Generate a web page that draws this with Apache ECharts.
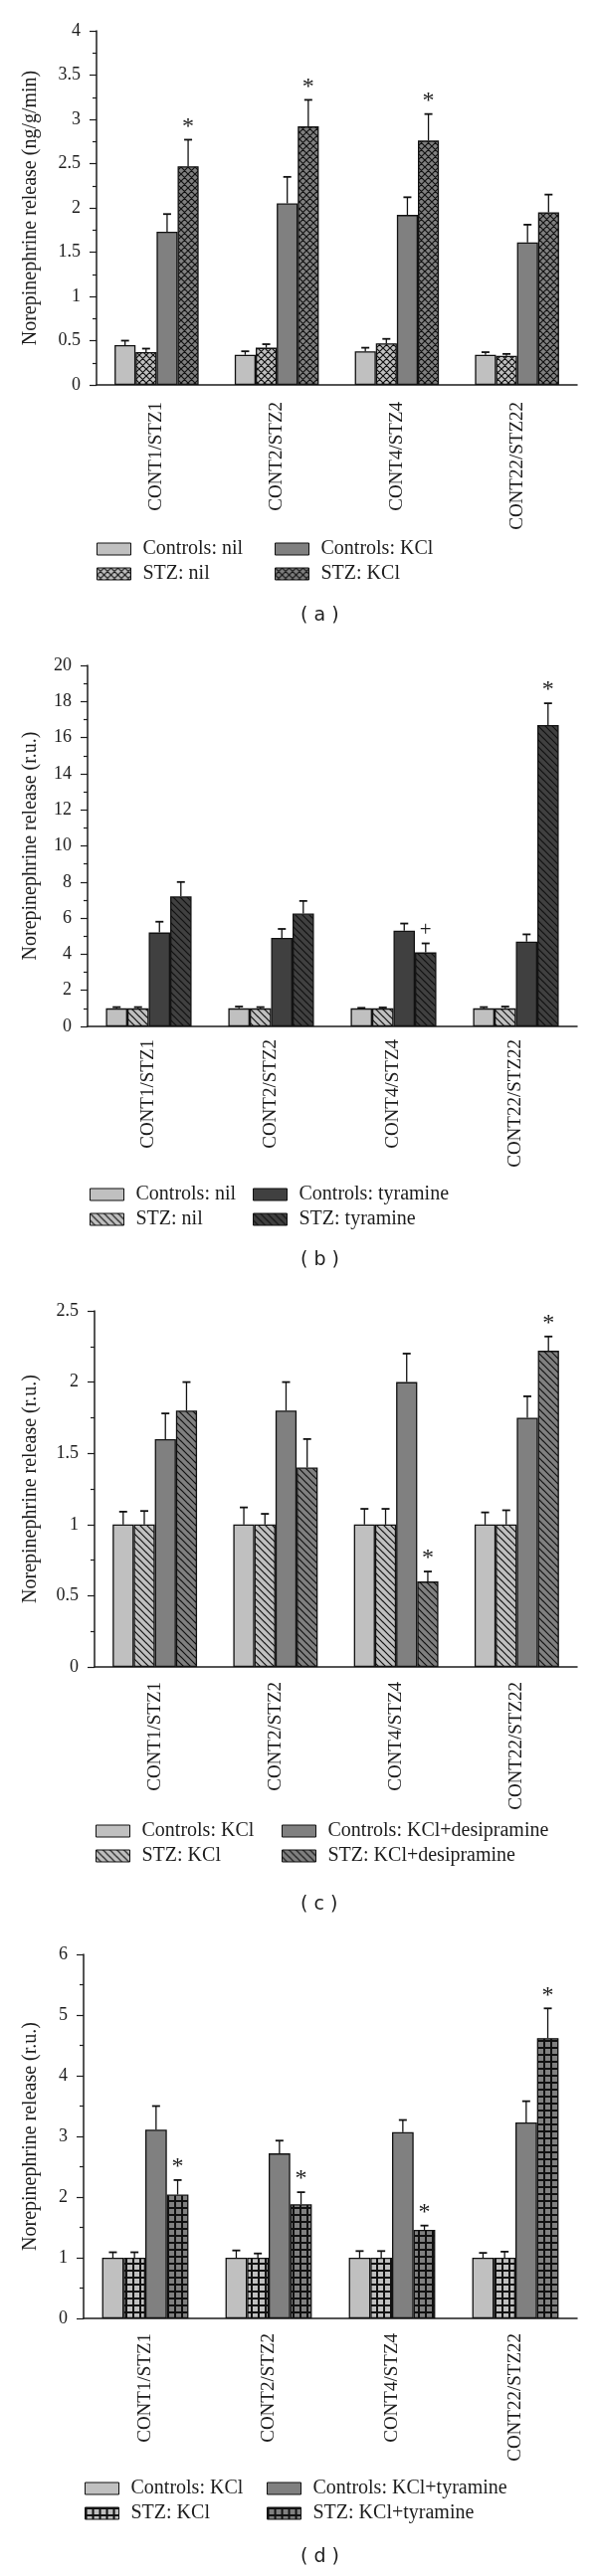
<!DOCTYPE html>
<html><head><meta charset="utf-8">
<script src="https://cdn.jsdelivr.net/npm/echarts@6/dist/echarts.min.js"></script>
<style>html,body{margin:0;padding:0;background:#fff}#chart{width:600px;height:2590px}</style>
</head><body><div id="chart"></div>
<script>
// ---------------- DATA ----------------
const categories = ['CONT1/STZ1', 'CONT2/STZ2', 'CONT4/STZ4', 'CONT22/STZ22'];

// panel (a)
const aNames = ['Controls: nil', 'STZ: nil', 'Controls: KCl', 'STZ: KCl'];
const aControlsNil = [0.45, 0.34, 0.38, 0.34];
const aControlsNilSem = [0.05, 0.04, 0.04, 0.03];
const aStzNil = [0.37, 0.42, 0.47, 0.33];
const aStzNilSem = [0.04, 0.04, 0.05, 0.02];
const aControlsKCl = [1.73, 2.05, 1.92, 1.61];
const aControlsKClSem = [0.20, 0.30, 0.20, 0.20];
const aStzKCl = [2.47, 2.92, 2.76, 1.95];
const aStzKClSem = [0.30, 0.30, 0.30, 0.20];
const aStzKClMarks = ['*', '*', '*', ''];
const aTicks = { min: 0, max: 4, interval: 0.5 };

// panel (b)
const bNames = ['Controls: nil', 'STZ: nil', 'Controls: tyramine', 'STZ: tyramine'];
const bControlsNil = [1, 1, 1, 1];
const bControlsNilSem = [0.07, 0.10, 0.03, 0.07];
const bStzNil = [1, 1, 1, 1];
const bStzNilSem = [0.07, 0.07, 0.05, 0.10];
const bControlsTyr = [5.2, 4.9, 5.3, 4.7];
const bControlsTyrSem = [0.6, 0.5, 0.4, 0.4];
const bStzTyr = [7.2, 6.25, 4.1, 16.7];
const bStzTyrSem = [0.8, 0.7, 0.5, 1.2];
const bStzTyrMarks = ['', '', '+', '*'];
const bTicks = { min: 0, max: 20, interval: 2 };

// panel (c)
const cNames = ['Controls: KCl', 'STZ: KCl', 'Controls: KCl+desipramine', 'STZ: KCl+desipramine'];
const cControlsKCl = [1, 1, 1, 1];
const cControlsKClSem = [0.09, 0.12, 0.11, 0.085];
const cStzKCl = [1, 1, 1, 1];
const cStzKClSem = [0.095, 0.075, 0.11, 0.10];
const cControlsDes = [1.6, 1.8, 2.0, 1.75];
const cControlsDesSem = [0.18, 0.20, 0.20, 0.15];
const cStzDes = [1.8, 1.4, 0.6, 2.22];
const cStzDesSem = [0.20, 0.20, 0.07, 0.10];
const cStzDesMarks = ['', '', '*', '*'];
const cTicks = { min: 0, max: 2.5, interval: 0.5 };

// panel (d)
const dNames = ['Controls: KCl', 'STZ: KCl', 'Controls: KCl+tyramine', 'STZ: KCl+tyramine'];
const dControlsKCl = [1, 1, 1, 1];
const dControlsKClSem = [0.09, 0.12, 0.11, 0.08];
const dStzKCl = [1, 1, 1, 1];
const dStzKClSem = [0.09, 0.07, 0.11, 0.10];
const dControlsTyr = [3.11, 2.72, 3.07, 3.23];
const dControlsTyrSem = [0.39, 0.21, 0.20, 0.35];
const dStzTyr = [2.04, 1.88, 1.46, 4.62];
const dStzTyrSem = [0.24, 0.20, 0.07, 0.49];
const dStzTyrMarks = ['*', '*', '*', '*'];
const dTicks = { min: 0, max: 6, interval: 1 };

// ---------------- STYLE ----------------
const SERIF = '"Liberation Serif", "DejaVu Serif", serif';
const INK = '#1c1c1c';
const LIGHT = '#c0c0c0', MID = '#808080', DARK = '#404040';

function makePattern(kind, bg) {
  const s = 7;
  const cv = document.createElement('canvas');
  cv.width = s; cv.height = s;
  const g = cv.getContext('2d');
  g.fillStyle = bg; g.fillRect(0, 0, s, s);
  g.strokeStyle = '#111'; g.fillStyle = '#111'; g.lineWidth = 1.2;
  if (kind === 'grid') {
    g.fillRect(0, 0, s, 2); g.fillRect(0, 0, 2, s);
  } else {
    g.beginPath();
    for (let dx = -s; dx <= s; dx += s) for (let dy = -s; dy <= s; dy += s) {
      g.moveTo(dx, dy); g.lineTo(dx + s, dy + s);
      if (kind === 'cross') { g.moveTo(dx + s, dy); g.lineTo(dx, dy + s); }
    }
    g.stroke();
  }
  return { image: cv, repeat: 'repeat' };
}

const panels = [
  { key: 'a', label: '( a )', names: aNames, yName: 'Norepinephrine release (ng/g/min)', ticks: aTicks,
    values: [aControlsNil, aStzNil, aControlsKCl, aStzKCl],
    sems: [aControlsNilSem, aStzNilSem, aControlsKClSem, aStzKClSem],
    marks: [[], [], [], aStzKClMarks],
    fills: [LIGHT, makePattern('cross', LIGHT), MID, makePattern('cross', MID)],
    grid: { left: 97, top: 31, width: 483, height: 356 }, nameGap: 56, labelMargin: 17,
    legend: { top: 542, left1: 97, left2: 276 }, title: { left: 302, top: 610 } },
  { key: 'b', label: '( b )', names: bNames, yName: 'Norepinephrine release (r.u.)', ticks: bTicks,
    values: [bControlsNil, bStzNil, bControlsTyr, bStzTyr],
    sems: [bControlsNilSem, bStzNilSem, bControlsTyrSem, bStzTyrSem],
    marks: [[], [], [], bStzTyrMarks],
    fills: [LIGHT, makePattern('diag', LIGHT), DARK, makePattern('diag', DARK)],
    grid: { left: 88, top: 669, width: 492, height: 363 }, nameGap: 47, labelMargin: 13,
    legend: { top: 1191, left1: 90, left2: 254 }, title: { left: 302, top: 1258 } },
  { key: 'c', label: '( c )', names: cNames, yName: 'Norepinephrine release (r.u.)', ticks: cTicks,
    values: [cControlsKCl, cStzKCl, cControlsDes, cStzDes],
    sems: [cControlsKClSem, cStzKClSem, cControlsDesSem, cStzDesSem],
    marks: [[], [], [], cStzDesMarks],
    fills: [LIGHT, makePattern('diag', LIGHT), MID, makePattern('diag', MID)],
    grid: { left: 95, top: 1318, width: 485, height: 358 }, nameGap: 54, labelMargin: 15,
    legend: { top: 1831, left1: 96, left2: 283 }, title: { left: 302, top: 1906 } },
  { key: 'd', label: '( d )', names: dNames, yName: 'Norepinephrine release (r.u.)', ticks: dTicks,
    values: [dControlsKCl, dStzKCl, dControlsTyr, dStzTyr],
    sems: [dControlsKClSem, dStzKClSem, dControlsTyrSem, dStzTyrSem],
    marks: [[], [], [], dStzTyrMarks],
    fills: [LIGHT, makePattern('grid', LIGHT), MID, makePattern('grid', MID)],
    grid: { left: 84, top: 1965, width: 496, height: 366 }, nameGap: 43, labelMargin: 15,
    legend: { top: 2492, left1: 85, left2: 268 }, title: { left: 302, top: 2562 } }
];

const option = { animation: false, backgroundColor: '#fff', grid: [], xAxis: [], yAxis: [], series: [], legend: [], title: [] };

panels.forEach((p, i) => {
  option.grid.push(Object.assign({ containLabel: false }, p.grid));
  option.xAxis.push({
    type: 'category', gridIndex: i, data: categories,
    axisLine: { lineStyle: { color: INK, width: 1.5 } },
    axisTick: { show: false },
    axisLabel: { rotate: 90, margin: p.labelMargin, fontFamily: SERIF, fontSize: 19, color: INK, interval: 0 },
    splitLine: { show: false }
  });
  option.yAxis.push({
    type: 'value', gridIndex: i, min: p.ticks.min, max: p.ticks.max, interval: p.ticks.interval,
    name: p.yName, nameLocation: 'middle', nameGap: p.nameGap,
    nameTextStyle: { fontFamily: SERIF, fontSize: 20, color: INK },
    axisLine: { show: true, lineStyle: { color: INK, width: 1.5 } },
    axisTick: { show: true, length: 7, lineStyle: { color: INK, width: 1.2 } },
    minorTick: { show: true, splitNumber: 2, length: 4, lineStyle: { color: INK, width: 1.2 } },
    axisLabel: { margin: 16, fontFamily: SERIF, fontSize: 18, color: INK },
    splitLine: { show: false }
  });
  const keyed = p.names.map(n => p.key + '|' + n);
  p.values.forEach((vals, s) => {
    option.series.push({
      type: 'bar', name: keyed[s], xAxisIndex: i, yAxisIndex: i, data: vals,
      barGap: '0%', barCategoryGap: '30%',
      itemStyle: { color: p.fills[s], borderColor: '#111', borderWidth: 1.3 },
      emphasis: { disabled: true }
    });
  });
  const errData = [], marks = [];
  p.values.forEach((vals, s) => vals.forEach((v, c) => {
    errData.push([c, v, p.sems[s][c], s]);
    marks.push((p.marks[s] && p.marks[s][c]) || '');
  }));
  option.series.push({
    type: 'custom', xAxisIndex: i, yAxisIndex: i, data: errData, z: 5, silent: true,
    encode: { x: 0, y: 1 },
    renderItem: function (params, api) {
      const c = api.value(0), v = api.value(1), e = api.value(2), s = api.value(3);
      const band = api.size([1, 0])[0];
      const bw = band * 0.7 / 4;
      const x = api.coord([c, 0])[0] + (s - 1.5) * bw;
      const yv = api.coord([c, v])[1];
      const ye = api.coord([c, v + e])[1];
      const children = [
        { type: 'line', shape: { x1: x, y1: yv, x2: x, y2: ye }, style: { stroke: '#111', lineWidth: 1.3 } },
        { type: 'line', shape: { x1: x - 4, y1: ye, x2: x + 4, y2: ye }, style: { stroke: '#111', lineWidth: 1.8 } }
      ];
      const m = marks[params.dataIndex];
      if (m) {
        children.push({ type: 'text', x: x, y: ye - 13, style: {
          text: m, fill: INK, font: (m === '*' ? '24px ' : '21px ') + SERIF, align: 'center', verticalAlign: 'middle' } });
      }
      return { type: 'group', children: children };
    }
  });
  const legendBase = {
    orient: 'vertical', top: p.legend.top, itemWidth: 34, itemHeight: 12, itemGap: 5,
    selectedMode: false, icon: 'rect', padding: 0,
    formatter: n => n.split('|')[1],
    textStyle: { fontFamily: SERIF, fontSize: 20, color: INK, lineHeight: 20, padding: [0, 0, 0, 7] },
    itemStyle: { borderColor: '#111', borderWidth: 1 }
  };
  option.legend.push(Object.assign({}, legendBase, { left: p.legend.left1, data: [keyed[0], keyed[1]] }));
  option.legend.push(Object.assign({}, legendBase, { left: p.legend.left2, data: [keyed[2], keyed[3]] }));
  option.title.push({ text: p.label, left: p.title.left, top: p.title.top, padding: 0,
    textStyle: { fontFamily: '"DejaVu Sans", sans-serif', fontSize: 19, fontWeight: 'normal', color: INK } });
});

const chart = echarts.init(document.getElementById('chart'), null, { renderer: 'canvas' });
chart.setOption(option);
</script></body></html>
